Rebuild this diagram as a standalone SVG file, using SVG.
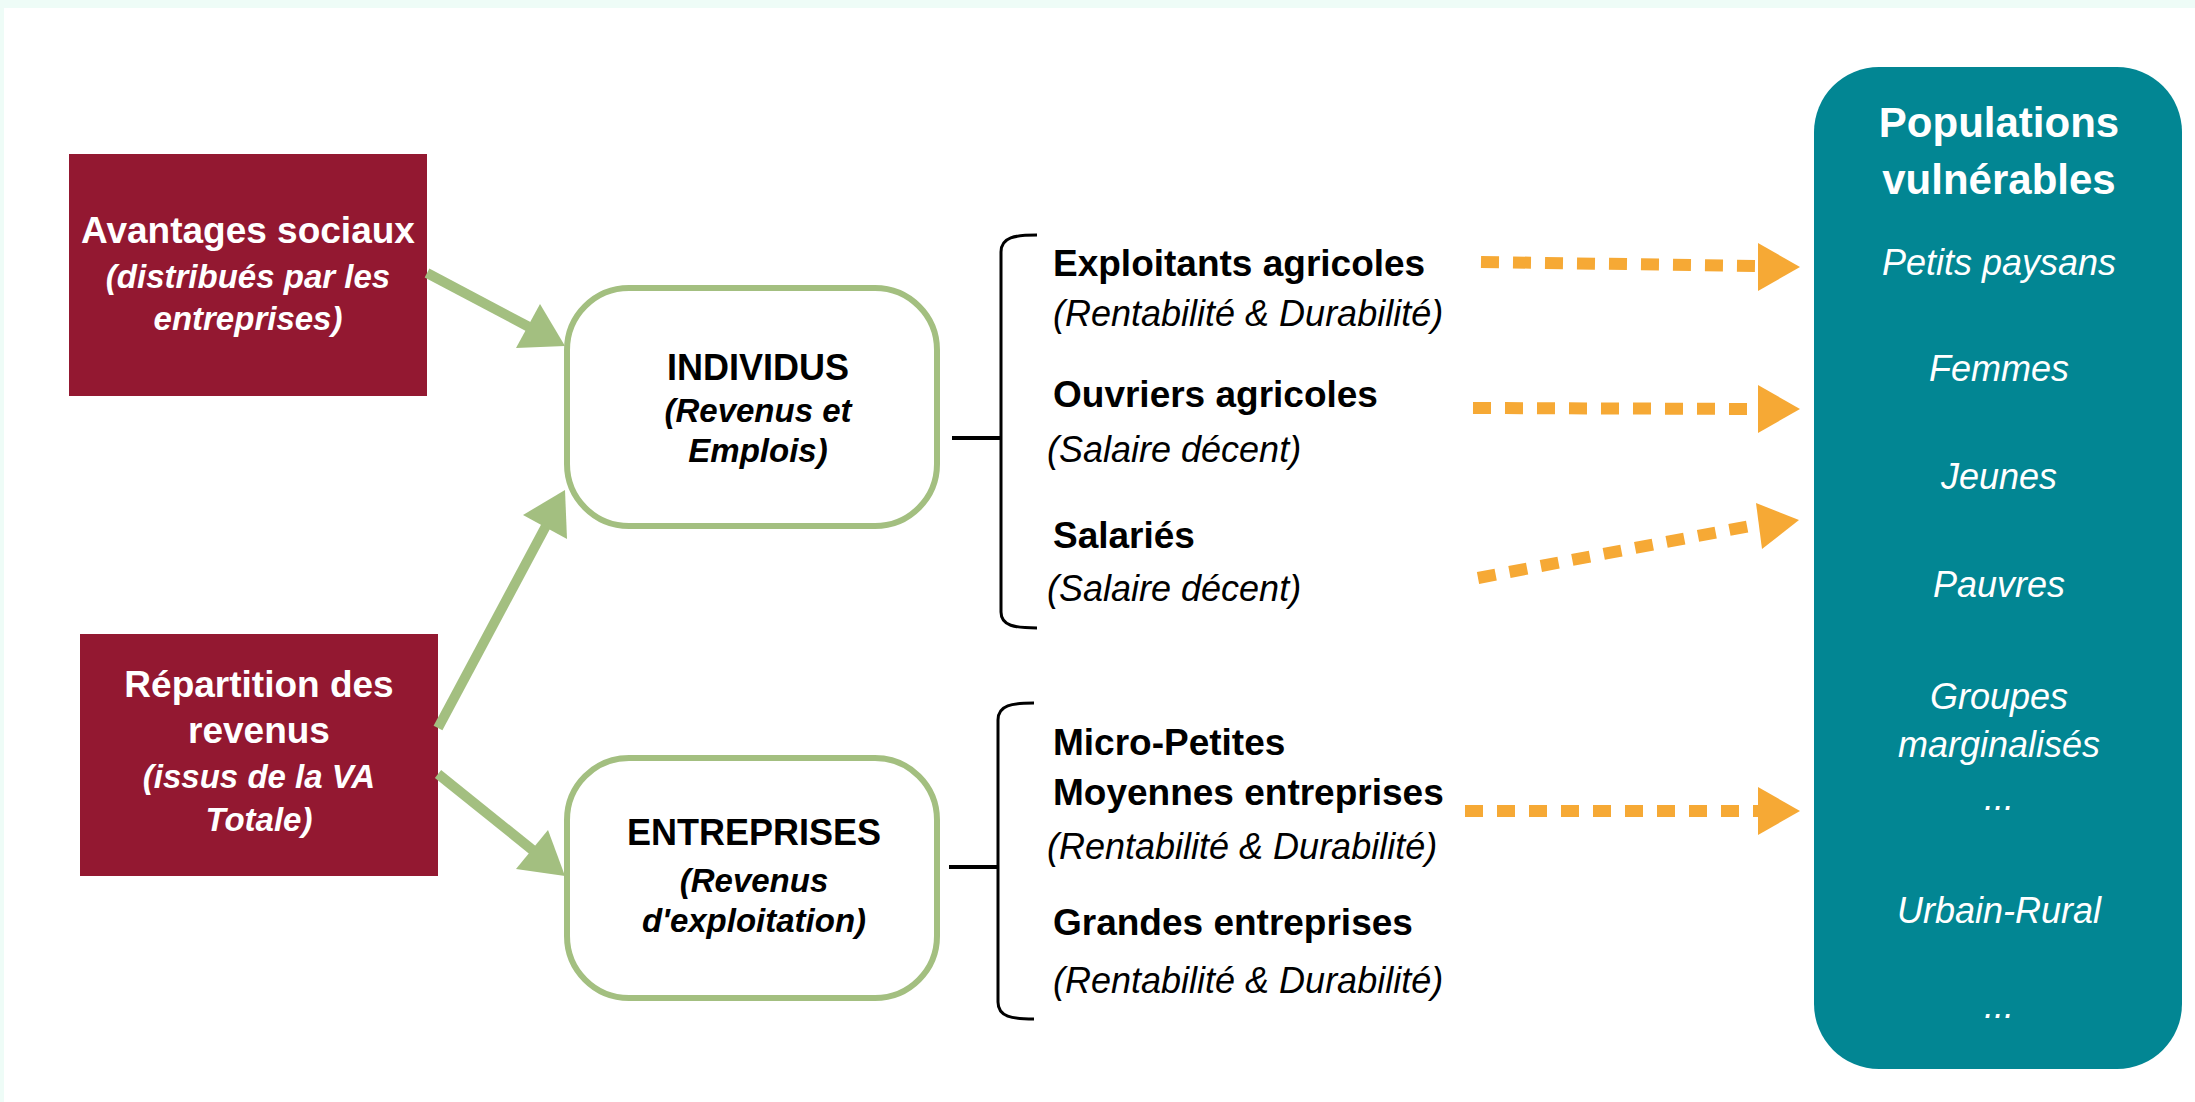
<svg xmlns="http://www.w3.org/2000/svg" width="2195" height="1102" viewBox="0 0 2195 1102">
<style>
text{font-family:"Liberation Sans",Arial,sans-serif;text-anchor:middle}
.red{fill:#931831}
.rbox{fill:#fff;stroke:#a3bf80;stroke-width:6}
.teal{fill:#028693}
.wb{fill:#fff;font-weight:bold;font-size:37px}
.wi{fill:#fff;font-weight:bold;font-style:italic;font-size:33px}
.kb{fill:#000;font-weight:bold;font-size:36px}
.ki{fill:#000;font-weight:bold;font-style:italic;font-size:33px}
.lb{fill:#000;font-weight:bold;font-size:37px;text-anchor:start}
.li{fill:#000;font-style:italic;font-size:36px;text-anchor:start}
.tb{fill:#fff;font-weight:bold;font-size:42px}
.ti{fill:#fff;font-style:italic;font-size:36px}
.green{stroke:#a3bf80;stroke-width:10;fill:none}
.gh{fill:#a3bf80}
.orange{stroke:#f6a935;stroke-width:12;stroke-dasharray:18 14;fill:none}
.oh{fill:#f6a935}
.brace{stroke:#000;stroke-width:3;fill:none}
.stub{stroke:#000;stroke-width:4;fill:none}
</style>
<rect x="0" y="0" width="2195" height="1102" fill="#fff"/>
<rect x="0" y="0" width="2195" height="8" fill="#eefcf7"/>
<rect x="0" y="0" width="4" height="1102" fill="#eefcf7"/>

<g id="avantages">
<rect class="red" x="69" y="154" width="358" height="242"/>
<text class="wb" x="248" y="243">Avantages sociaux</text>
<text class="wi" x="248" y="288">(distribués par les</text>
<text class="wi" x="248" y="330">entreprises)</text>
</g>

<g id="repartition">
<rect class="red" x="80" y="634" width="358" height="242"/>
<text class="wb" x="259" y="697">Répartition des</text>
<text class="wb" x="259" y="743">revenus</text>
<text class="wi" x="259" y="788">(issus de la VA</text>
<text class="wi" x="259" y="831">Totale)</text>
</g>

<g id="individus">
<rect class="rbox" x="567" y="288" width="370" height="238" rx="62"/>
<text class="kb" x="758" y="380">INDIVIDUS</text>
<text class="ki" x="758" y="422">(Revenus et</text>
<text class="ki" x="758" y="462">Emplois)</text>
</g>

<g id="entreprises">
<rect class="rbox" x="567" y="758" width="370" height="240" rx="62"/>
<text class="kb" x="754" y="845">ENTREPRISES</text>
<text class="ki" x="754" y="892">(Revenus</text>
<text class="ki" x="754" y="932">d'exploitation)</text>
</g>

<g id="individus-types">
<path class="brace" d="M1037,235 C1015,235 1001,237 1001,252 L1001,612 C1001,626 1015,628 1037,628"/>
<text class="lb" x="1053" y="276">Exploitants agricoles</text>
<text class="li" x="1053" y="326">(Rentabilité &amp; Durabilité)</text>
<text class="lb" x="1053" y="407">Ouvriers agricoles</text>
<text class="li" x="1047" y="462">(Salaire décent)</text>
<text class="lb" x="1053" y="548">Salariés</text>
<text class="li" x="1047" y="601">(Salaire décent)</text>
</g>

<g id="entreprises-types">
<path class="brace" d="M1034,703 C1012,703 998,705 998,720 L998,1002 C998,1017 1012,1019 1034,1019"/>
<text class="lb" x="1053" y="755">Micro-Petites</text>
<text class="lb" x="1053" y="805">Moyennes entreprises</text>
<text class="li" x="1047" y="859">(Rentabilité &amp; Durabilité)</text>
<text class="lb" x="1053" y="935">Grandes entreprises</text>
<text class="li" x="1053" y="993">(Rentabilité &amp; Durabilité)</text>
</g>

<g id="populations">
<rect class="teal" x="1814" y="67" width="368" height="1002" rx="65"/>
<text class="tb" x="1999" y="137">Populations</text>
<text class="tb" x="1999" y="194">vulnérables</text>
<text class="ti" x="1999" y="275">Petits paysans</text>
<text class="ti" x="1999" y="381">Femmes</text>
<text class="ti" x="1999" y="489">Jeunes</text>
<text class="ti" x="1999" y="597">Pauvres</text>
<text class="ti" x="1999" y="709">Groupes</text>
<text class="ti" x="1999" y="757">marginalisés</text>
<text class="ti" x="1999" y="810">...</text>
<text class="ti" x="1999" y="923">Urbain-Rural</text>
<text class="ti" x="1999" y="1018">...</text>
</g>

<g id="connectors">
<line class="green" x1="427" y1="273" x2="531" y2="328"/>
<polygon class="gh" points="516,348 565,346 540,304"/>
<line class="green" x1="438" y1="728" x2="547" y2="524"/>
<polygon class="gh" points="523,515 565,490 567,539"/>
<line class="green" x1="438" y1="774" x2="535" y2="852"/>
<polygon class="gh" points="516,869 565,876 548,830"/>

<path class="stub" d="M952,438 L1001,438"/>
<path class="stub" d="M949,867 L998,867"/>

<line class="orange" x1="1481" y1="262" x2="1758" y2="266"/>
<polygon class="oh" points="1758,243 1800,267 1758,291"/>
<line class="orange" x1="1473" y1="408" x2="1758" y2="409"/>
<polygon class="oh" points="1758,385 1800,409 1758,433"/>
<line class="orange" x1="1478" y1="578" x2="1750" y2="526"/>
<polygon class="oh" points="1756,503 1799,520 1762,549"/>
<line class="orange" x1="1465" y1="811" x2="1758" y2="811"/>
<polygon class="oh" points="1758,787 1800,811 1758,835"/>
</g>
</svg>
